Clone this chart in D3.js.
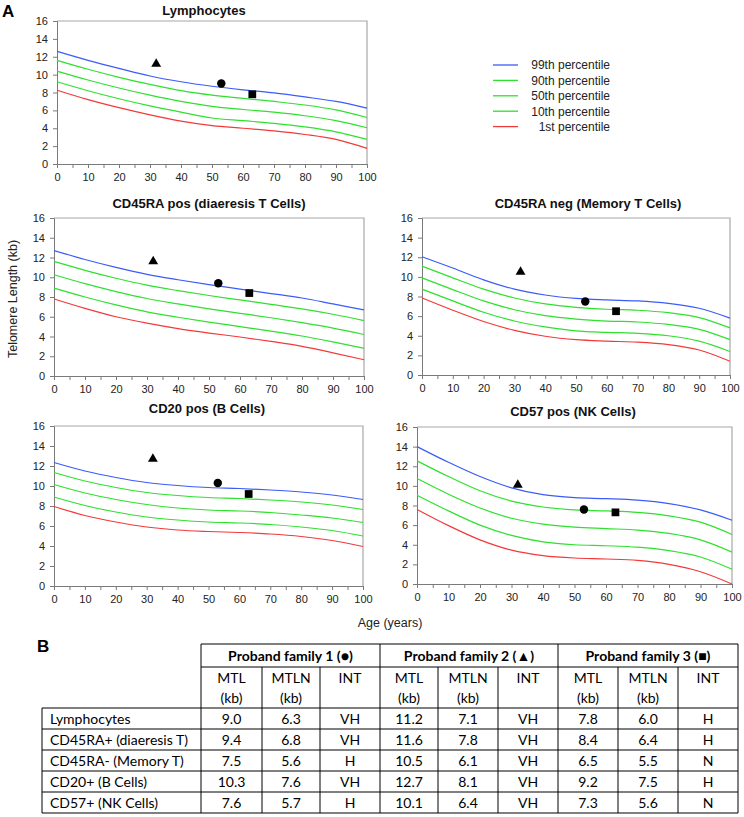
<!DOCTYPE html>
<html>
<head>
<meta charset="utf-8">
<script src="https://cdn.jsdelivr.net/npm/d3@7"></script>
<style>
  body { margin: 0; background: #fff; }
  svg { display: block; }
  .chart-text { font-family: Arial, "Liberation Sans", Helvetica, sans-serif; }
</style>
</head>
<body>
<svg id="chart"></svg>
<script>
const ages = [0, 10, 20, 30, 40, 50, 60, 70, 80, 90, 100];
const percentileNames = ["99th percentile", "90th percentile", "50th percentile", "10th percentile", "1st percentile"];

// each panel: 99th, 90th, 50th, 10th, 1st percentile (kb)
const lymphocyteCurves = [
    [12.6, 11.6, 10.7, 9.85, 9.2, 8.7, 8.3, 7.95, 7.5, 7.0, 6.25],
    [11.6, 10.6, 9.7, 8.9, 8.2, 7.7, 7.35, 7.0, 6.6, 6.05, 5.2],
    [10.4, 9.4, 8.5, 7.7, 7.0, 6.45, 6.1, 5.8, 5.4, 4.85, 4.05],
    [9.2, 8.2, 7.3, 6.5, 5.8, 5.15, 4.85, 4.55, 4.15, 3.6, 2.75],
    [8.25, 7.2, 6.3, 5.5, 4.8, 4.3, 4.0, 3.7, 3.3, 2.75, 1.75]
];
const naiveTCurves = [
    [12.7, 11.8, 11.0, 10.3, 9.75, 9.25, 8.8, 8.35, 7.9, 7.3, 6.7],
    [11.6, 10.7, 9.9, 9.2, 8.65, 8.15, 7.7, 7.25, 6.8, 6.25, 5.6],
    [10.25, 9.35, 8.55, 7.85, 7.3, 6.8, 6.35, 5.9, 5.4, 4.85, 4.2],
    [8.9, 8.0, 7.2, 6.5, 5.95, 5.45, 5.0, 4.55, 4.05, 3.45, 2.8],
    [7.8, 6.85, 6.0, 5.35, 4.8, 4.35, 3.95, 3.5, 3.0, 2.35, 1.65]
];
const memoryTCurves = [
    [12.05, 10.9, 9.7, 8.75, 8.15, 7.8, 7.65, 7.55, 7.3, 6.8, 5.8],
    [11.1, 9.9, 8.75, 7.85, 7.25, 6.9, 6.7, 6.6, 6.35, 5.85, 4.8],
    [9.9, 8.7, 7.55, 6.65, 6.05, 5.7, 5.5, 5.4, 5.15, 4.65, 3.6],
    [8.75, 7.55, 6.4, 5.5, 4.9, 4.5, 4.35, 4.25, 4.0, 3.45, 2.4],
    [7.85, 6.6, 5.45, 4.55, 3.95, 3.6, 3.45, 3.35, 3.1, 2.55, 1.4]
];
const bCellCurves = [
    [12.35, 11.5, 10.85, 10.35, 10.05, 9.85, 9.75, 9.6, 9.4, 9.1, 8.65],
    [11.35, 10.5, 9.85, 9.35, 9.05, 8.85, 8.75, 8.6, 8.4, 8.1, 7.65],
    [10.15, 9.3, 8.65, 8.15, 7.8, 7.6, 7.5, 7.35, 7.1, 6.8, 6.35],
    [8.9, 8.05, 7.4, 6.9, 6.6, 6.4, 6.3, 6.15, 5.9, 5.55, 5.0],
    [7.95, 7.05, 6.4, 5.9, 5.6, 5.45, 5.35, 5.2, 4.95, 4.55, 3.95]
];
const nkCellCurves = [
    [14.0, 12.4, 10.95, 9.8, 9.1, 8.8, 8.7, 8.55, 8.2, 7.55, 6.5],
    [12.55, 10.95, 9.5, 8.45, 7.85, 7.55, 7.45, 7.3, 6.95, 6.3, 5.05],
    [10.75, 9.15, 7.75, 6.7, 6.1, 5.8, 5.65, 5.5, 5.15, 4.5, 3.25],
    [9.05, 7.45, 6.0, 4.95, 4.3, 4.0, 3.9, 3.75, 3.4, 2.75, 1.5],
    [7.6, 5.95, 4.5, 3.45, 2.9, 2.65, 2.55, 2.4, 2.0, 1.25, 0.0]
];

const panelTitles = ["Lymphocytes", "CD45RA pos (diaeresis T Cells)", "CD45RA neg (Memory T Cells)", "CD20 pos (B Cells)", "CD57 pos (NK Cells)"];
const xTicks = d3.range(0, 101, 5);
const yTicks = d3.range(0, 17, 2);

// proband families: age at testing and table values
const probandAges = [53, 32, 63];
const familyHeaders = ["Proband family 1 (\u25CF)", "Proband family 2 (\u25B2)", "Proband family 3 (\u25A0)"];
const rowLabels = ["Lymphocytes", "CD45RA+ (diaeresis T)", "CD45RA- (Memory T)", "CD20+ (B Cells)", "CD57+ (NK Cells)"];
const mtlFam1 = [9.0, 9.4, 7.5, 10.3, 7.6];
const mtlnFam1 = [6.3, 6.8, 5.6, 7.6, 5.7];
const intFam1 = ["VH", "VH", "H", "VH", "H"];
const mtlFam2 = [11.2, 11.6, 10.5, 12.7, 10.1];
const mtlnFam2 = [7.1, 7.8, 6.1, 8.1, 6.4];
const intFam2 = ["VH", "VH", "VH", "VH", "VH"];
const mtlFam3 = [7.8, 8.4, 6.5, 9.2, 7.3];
const mtlnFam3 = [6.0, 6.4, 5.5, 7.5, 5.6];
const intFam3 = ["H", "H", "N", "H", "N"];

const width = 744, height = 817;
const colors = ["#3a5cf8", "#2fe02f", "#2fe02f", "#2fe02f", "#f23a3a"];
const chartFont = "Arial, 'Liberation Sans', Helvetica, sans-serif";
const tableFont = "Lato, 'Open Sans', sans-serif";

const svg = d3.select("#chart")
    .attr("width", width)
    .attr("height", height)
    .attr("viewBox", `0 0 ${width} ${height}`);

// panel boxes (pixels)
const panels = [
    { curves: lymphocyteCurves, x0: 57, x1: 367, y0: 21, y1: 164, tx: 204, ty: 15 },
    { curves: naiveTCurves, x0: 54, x1: 364, y0: 218, y1: 376, tx: 209, ty: 208 },
    { curves: memoryTCurves, x0: 422, x1: 730, y0: 218, y1: 375, tx: 588, ty: 208 },
    { curves: bCellCurves, x0: 54, x1: 363, y0: 426, y1: 586, tx: 207, ty: 413 },
    { curves: nkCellCurves, x0: 417, x1: 732, y0: 427, y1: 584, tx: 573, ty: 416 }
];
const familyMtl = [mtlFam1, mtlFam2, mtlFam3];
const symbols = [d3.symbolCircle, d3.symbolTriangle, d3.symbolSquare];
const symbolSizes = [56, 42, 60];

const charts = svg.append("g").attr("class", "chart-text").attr("font-family", chartFont);

panels.forEach((p, pi) => {
    const x = d3.scaleLinear().domain([0, 100]).range([p.x0, p.x1]);
    const y = d3.scaleLinear().domain([0, 16]).range([p.y1, p.y0]);
    const g = charts.append("g");

    // top and right frame
    g.append("path")
        .attr("d", `M${p.x0},${p.y0}H${p.x1}V${p.y1}`)
        .attr("fill", "none")
        .attr("stroke", "#a8a8a8")
        .attr("stroke-width", 1.2);

    g.append("g")
        .attr("transform", `translate(0,${p.y1})`)
        .call(d3.axisBottom(x).tickValues(xTicks).tickSize(4).tickPadding(5)
            .tickFormat(d => d % 10 === 0 ? d : ""))
        .attr("font-family", chartFont)
        .attr("font-size", 11)
        .call(a => a.selectAll("path,line").attr("stroke", "#7a7a7a"))
        .call(a => a.selectAll("text").attr("fill", "#222"));

    g.append("g")
        .attr("transform", `translate(${p.x0},0)`)
        .call(d3.axisLeft(y).tickValues(yTicks).tickSize(4).tickPadding(5))
        .attr("font-family", chartFont)
        .attr("font-size", 11)
        .call(a => a.selectAll("path,line").attr("stroke", "#7a7a7a"))
        .call(a => a.selectAll("text").attr("fill", "#222"));

    const line = d3.line()
        .x((d, i) => x(ages[i]))
        .y(d => y(d))
        .curve(d3.curveMonotoneX);

    g.append("g")
        .attr("fill", "none")
        .attr("stroke-width", 1.2)
        .selectAll("path")
        .data(p.curves)
        .join("path")
        .attr("stroke", (d, i) => colors[i])
        .attr("d", line);

    g.append("text")
        .attr("x", p.tx)
        .attr("y", p.ty)
        .attr("text-anchor", "middle")
        .attr("font-weight", "bold")
        .attr("font-size", 13)
        .attr("fill", "#111")
        .text(panelTitles[pi]);

    familyMtl.forEach((vals, fi) => {
        g.append("path")
            .attr("d", d3.symbol().type(symbols[fi]).size(symbolSizes[fi])())
            .attr("transform", `translate(${x(probandAges[fi])},${y(vals[pi])})`)
            .attr("fill", "#000");
    });
});

// legend
const legend = charts.append("g").attr("font-size", 12).attr("fill", "#222");
percentileNames.forEach((name, i) => {
    const ly = 65 + i * 15.4;
    legend.append("line")
        .attr("x1", 493).attr("x2", 518)
        .attr("y1", ly).attr("y2", ly)
        .attr("stroke", colors[i]).attr("stroke-width", 1.3);
    legend.append("text")
        .attr("x", 610).attr("y", ly + 4.3)
        .attr("text-anchor", "end")
        .text(name);
});

// panel letters and axis titles
charts.append("text").attr("x", 2).attr("y", 17).attr("font-size", 17).attr("font-weight", "bold").text("A");
charts.append("text")
    .attr("transform", "translate(17,299) rotate(-90)")
    .attr("text-anchor", "middle")
    .attr("font-size", 12.5)
    .attr("fill", "#222")
    .text("Telomere Length (kb)");
charts.append("text")
    .attr("x", 390).attr("y", 627)
    .attr("text-anchor", "middle")
    .attr("font-size", 12.5)
    .attr("fill", "#222")
    .text("Age (years)");
charts.append("text").attr("x", 37).attr("y", 652).attr("font-size", 17).attr("font-weight", "bold").text("B");

// table B
const tbl = svg.append("g").attr("font-family", tableFont).attr("font-size", 14).attr("fill", "#000");
const colEdges = [201, 262, 320, 380, 438, 498, 558, 618, 678, 738];
const tableLeft = 42, yTop = 644, yGroup = 667, yBody = 708, rowH = 21;
const yBottom = yBody + rowH * rowLabels.length;
const stroke = "#000";

function hline(x1, x2, yy) {
    tbl.append("line").attr("x1", x1).attr("x2", x2).attr("y1", yy).attr("y2", yy).attr("stroke", stroke);
}
function vline(xx, y1, y2) {
    tbl.append("line").attr("x1", xx).attr("x2", xx).attr("y1", y1).attr("y2", y2).attr("stroke", stroke);
}
hline(colEdges[0], colEdges[9], yTop);
hline(colEdges[0], colEdges[9], yGroup);
for (let r = 0; r <= rowLabels.length; r++) hline(tableLeft, colEdges[9], yBody + r * rowH);
vline(tableLeft, yBody, yBottom);
colEdges.forEach((cx, i) => vline(cx, i % 3 === 0 ? yTop : yGroup, yBottom));

familyHeaders.forEach((h, i) => {
    tbl.append("text")
        .attr("x", (colEdges[i * 3] + colEdges[i * 3 + 3]) / 2)
        .attr("y", yTop + 16.5)
        .attr("text-anchor", "middle")
        .attr("font-weight", "bold")
        .text(h);
});
const subHeads = [["MTL", "(kb)"], ["MTLN", "(kb)"], ["INT"]];
for (let c = 0; c < 9; c++) {
    const cx = (colEdges[c] + colEdges[c + 1]) / 2;
    subHeads[c % 3].forEach((t, k) => {
        tbl.append("text")
            .attr("x", cx).attr("y", yGroup + 16 + k * 20)
            .attr("text-anchor", "middle")
            .text(t);
    });
}
const columns = [mtlFam1, mtlnFam1, intFam1, mtlFam2, mtlnFam2, intFam2, mtlFam3, mtlnFam3, intFam3];
rowLabels.forEach((label, r) => {
    const ty = yBody + r * rowH + 15.5;
    tbl.append("text").attr("x", tableLeft + 8).attr("y", ty).text(label);
    columns.forEach((col, c) => {
        const v = col[r];
        tbl.append("text")
            .attr("x", (colEdges[c] + colEdges[c + 1]) / 2)
            .attr("y", ty)
            .attr("text-anchor", "middle")
            .text(typeof v === "number" ? v.toFixed(1) : v);
    });
});
</script>
</body>
</html>
